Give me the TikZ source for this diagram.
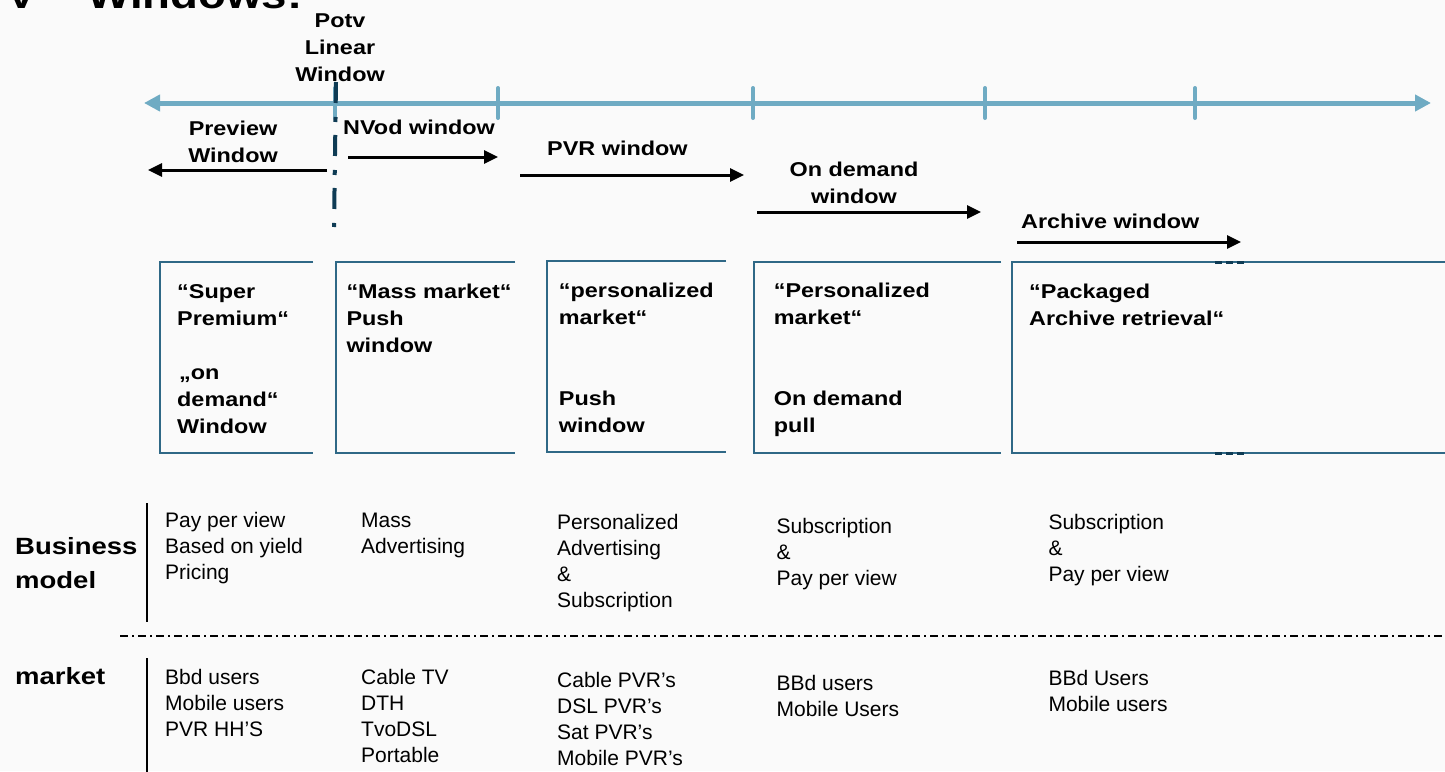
\documentclass[tikz,border=0pt]{standalone}
\usepackage{fontspec}
\setmainfont{Liberation Sans}
\newfontfamily\wbf{Liberation Sans}[FakeStretch=1.17]
\usetikzlibrary{arrows.meta}
\definecolor{tlblue}{RGB}{111,171,195}
\definecolor{boxblue}{RGB}{47,104,134}
\definecolor{darkline}{RGB}{14,59,84}
\definecolor{bgc}{RGB}{250,250,250}
\tikzset{
  lbl/.style={font=\wbf\bfseries\fontsize{20}{27}\selectfont, inner sep=0pt, align=left, anchor=base west},
  ctr/.style={font=\wbf\bfseries\fontsize{20}{27}\selectfont, inner sep=0pt, align=center, anchor=base},
  hdr/.style={font=\wbf\bfseries\fontsize{23.5}{34}\selectfont, inner sep=0pt, align=left, anchor=base west},
  ttl/.style={font=\wbf\bfseries\fontsize{39}{44}\selectfont, inner sep=0pt, anchor=base west},
  reg/.style={font=\fontsize{21}{26}\selectfont, inner sep=0pt, align=left, anchor=base west},
  warr/.style={line width=3pt, -{Triangle[length=14pt,width=13pt]}},
  timeline/.style={line width=5pt, tlblue, {Triangle[length=16pt,width=16pt]}-{Triangle[length=16pt,width=16pt]}},
  tickmark/.style={line width=4pt, tlblue, line cap=round},
  potvline/.style={line width=4pt, darkline, dash pattern=on 21pt off 14pt on 5pt off 13pt},
  boxline/.style={line width=2pt, boxblue},
  boxdash/.style={line width=3pt, darkline, dash pattern=on 7pt off 4pt},
  vline/.style={line width=2pt, black},
  ddline/.style={line width=2.2pt, black, dash pattern=on 8pt off 4pt on 2pt off 4pt}
}
\begin{document}
\begin{tikzpicture}[x=1pt,y=-1pt]
\useasboundingbox (0,0) rectangle (1445,771);
\clip (0,0) rectangle (1445,771);
\fill[bgc] (0,0) rectangle (1445,771);

% title (cut off at top)
\node[ttl] (title) at (6,9) {V – Windows:};

% timeline
\coordinate (tlL) at (144,103);
\coordinate (tlR) at (1431,103);
\draw[timeline] (tlL) -- (tlR);
\foreach \x [count=\i] in {335,498,753,985,1195} {
  \coordinate (tkT\i) at (\x,88);
  \coordinate (tkB\i) at (\x,118);
  \draw[tickmark] (tkT\i) -- (tkB\i);
}
\coordinate (potvT) at (336,82);
\coordinate (potvB) at (334,227);
\draw[potvline] (potvT) -- (potvB);

% window labels (anchor = baseline of last line)
\node[ctr] (potv) at (340,81) {Potv\\Linear\\Window};
\node[ctr] (preview) at (233,162) {Preview\\Window};
\node[lbl] (nvod) at (343,134) {NVod window};
\node[lbl] (pvr) at (547,155) {PVR window};
\node[ctr] (ondemand) at (854,203.5) {On demand\\window};
\node[lbl] (archive) at (1021,228.3) {Archive window};

% window arrows
\coordinate (a1s) at (327,170); \coordinate (a1e) at (148,170);
\coordinate (a2s) at (348,157); \coordinate (a2e) at (498,157);
\coordinate (a3s) at (520,175); \coordinate (a3e) at (744,175);
\coordinate (a4s) at (757,212); \coordinate (a4e) at (981,212);
\coordinate (a5s) at (1017,242); \coordinate (a5e) at (1241,242);
\draw[warr] (a1s) -- (a1e);
\draw[warr] (a2s) -- (a2e);
\draw[warr] (a3s) -- (a3e);
\draw[warr] (a4s) -- (a4e);
\draw[warr] (a5s) -- (a5e);

% open boxes
\foreach \l/\r/\t/\b [count=\i] in {160/313/262/453, 336/515/262/453, 547/726/261/452.3, 753.5/1001/262/453, 1012/1450/262/453} {
  \coordinate (b\i tr) at (\r,\t);
  \coordinate (b\i tl) at (\l,\t);
  \coordinate (b\i bl) at (\l,\b);
  \coordinate (b\i br) at (\r,\b);
  \draw[boxline] (b\i tr) -- (b\i tl) -- (b\i bl) -- (b\i br);
}
\coordinate (d1s) at (1215,262); \coordinate (d1e) at (1246,262);
\coordinate (d2s) at (1215,453); \coordinate (d2e) at (1246,453);
\draw[boxdash] (d1s) -- (d1e);
\draw[boxdash] (d2s) -- (d2e);

% box texts
\node[lbl] (t1) at (177,433.3) {“Super\\Premium“\\[27pt]\hspace*{2pt}„on\\demand“\\Window};
\node[lbl] (t2) at (346.3,352.3) {“Mass market“\\Push\\window};
\node[lbl] (t3) at (558.7,432.7) {“personalized\\market“\\[54pt]Push\\window};
\node[lbl] (t4) at (773.7,432.7) {“Personalized\\market“\\[54pt]On demand\\pull};
\node[lbl] (t5) at (1029,325.5) {“Packaged\\Archive retrieval“};

% lower table
\node[hdr] (bm) at (15,588.3) {Business\\model};
\node[hdr] (mk) at (15,684.3) {market};
\coordinate (v1t) at (147,503); \coordinate (v1b) at (147,622);
\coordinate (v2t) at (147,658); \coordinate (v2b) at (147,775);
\draw[vline] (v1t) -- (v1b);
\draw[vline] (v2t) -- (v2b);
\coordinate (ddL) at (120,636); \coordinate (ddR) at (1450,636);
\draw[ddline] (ddL) -- (ddR);

\node[reg] (bm1) at (165,579.3) {Pay per view\\Based on yield\\Pricing};
\node[reg] (bm2) at (361,553.8) {Mass\\Advertising};
\node[reg] (bm3) at (557,607.3) {Personalized\\Advertising\\\&\\Subscription};
\node[reg] (bm4) at (776.4,585) {Subscription\\\&\\Pay per view};
\node[reg] (bm5) at (1048.3,581) {Subscription\\\&\\Pay per view};
\node[reg] (mk1) at (165,736) {Bbd users\\Mobile users\\PVR HH’S};
\node[reg] (mk2) at (361,762.7) {Cable TV\\DTH\\TvoDSL\\Portable};
\node[reg] (mk3) at (557,765) {Cable PVR’s\\DSL PVR’s\\Sat PVR’s\\Mobile PVR’s};
\node[reg] (mk4) at (776.4,716.7) {BBd users\\Mobile Users};
\node[reg] (mk5) at (1048.3,711.7) {BBd Users\\Mobile users};
\end{tikzpicture}
\end{document}
